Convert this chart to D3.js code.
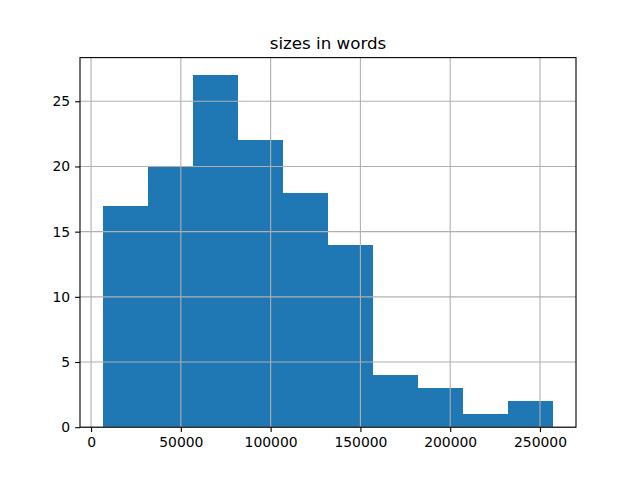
<!DOCTYPE html>
<html><head><meta charset="utf-8">
<script src="https://cdn.jsdelivr.net/npm/d3@7"></script>
<style>body{margin:0;background:#fff}svg{display:block}</style>
</head><body>
<script>
const binStart = 6400;
const binEnd = 257500;
const counts = [17, 20, 27, 22, 18, 14, 4, 3, 1, 2];
const xTicks = [0, 50000, 100000, 150000, 200000, 250000];
const yTicks = [0, 5, 10, 15, 20, 25];
const title = "sizes in words";

const W = 640, H = 480;
const m = {left: 80, right: 576, top: 57.6, bottom: 427.2};
const svg = d3.select("body").append("svg").attr("width", W).attr("height", H);

const span = binEnd - binStart;
const x = d3.scaleLinear().domain([binStart - 0.05*span, binEnd + 0.05*span]).range([m.left, m.right]);
const y = d3.scaleLinear().domain([0, d3.max(counts)*1.05]).range([m.bottom, m.top]);
const bw = span / counts.length;
const bins = counts.map((c, i) => ({x0: binStart + i*bw, x1: binStart + (i+1)*bw, c}));

svg.append("g").selectAll("rect").data(bins).join("rect")
  .attr("x", d => x(d.x0)).attr("width", d => x(d.x1) - x(d.x0))
  .attr("y", d => y(d.c)).attr("height", d => y(0) - y(d.c))
  .attr("fill", "#1f77b4").attr("shape-rendering", "crispEdges");

// grid on top
const g = svg.append("g").attr("stroke", "#b0b0b0").attr("stroke-width", 1.1);
g.selectAll(".vx").data(xTicks).join("line")
  .attr("x1", d => x(d)).attr("x2", d => x(d)).attr("y1", m.top).attr("y2", m.bottom);
g.selectAll(".hy").data(yTicks).join("line")
  .attr("y1", d => y(d)).attr("y2", d => y(d)).attr("x1", m.left).attr("x2", m.right);

const font = "DejaVu Sans, sans-serif";
const xAxis = svg.append("g").attr("transform", `translate(0,${m.bottom})`)
  .call(d3.axisBottom(x).tickValues(xTicks).tickFormat(d3.format("d")).tickSize(4.9).tickPadding(4.9));
const yAxis = svg.append("g").attr("transform", `translate(${m.left},0)`)
  .call(d3.axisLeft(y).tickValues(yTicks).tickFormat(d3.format("d")).tickSize(4.9).tickPadding(4.9));
[xAxis, yAxis].forEach(a => {
  a.select(".domain").remove();
  a.selectAll("line").attr("stroke", "#000").attr("stroke-width", 1.1);
  a.selectAll("text").attr("font-family", font).attr("font-size", "13.9px").attr("fill", "#000");
});

svg.append("rect").attr("x", m.left).attr("y", m.top)
  .attr("width", m.right - m.left).attr("height", m.bottom - m.top)
  .attr("fill", "none").attr("stroke", "#000").attr("stroke-width", 1.1);

svg.append("text").attr("x", (m.left + m.right)/2).attr("y", m.top - 8.5)
  .attr("text-anchor", "middle").attr("font-family", font).attr("font-size", "16.7px")
  .text(title);
</script>
</body></html>
